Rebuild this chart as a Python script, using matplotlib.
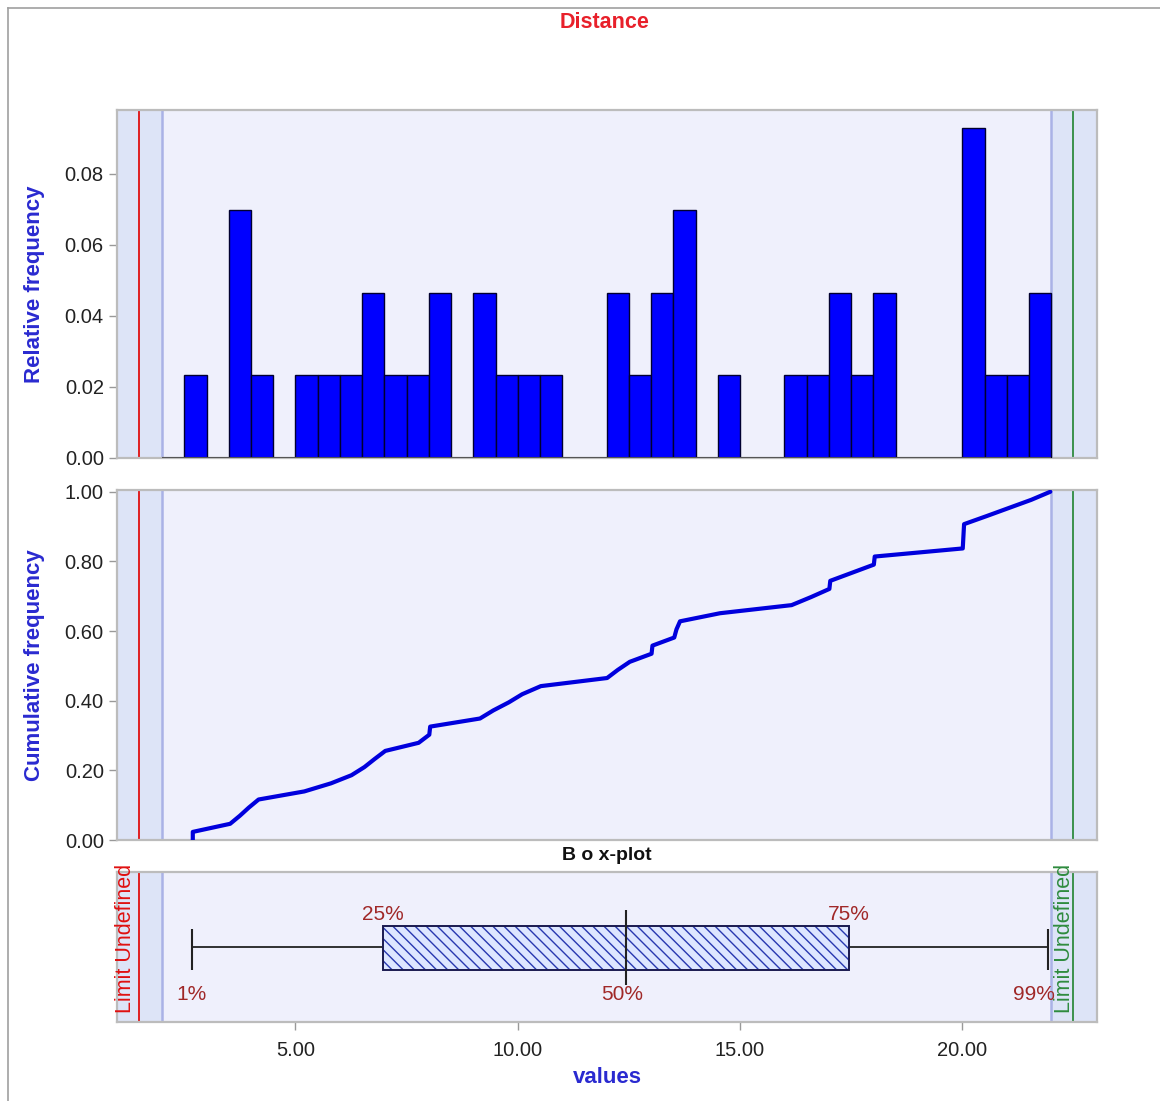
import numpy as np
import matplotlib.pyplot as plt
from matplotlib.ticker import FormatStrFormatter

values = [2.69, 3.53, 3.75, 3.95, 4.17, 5.2, 5.8, 6.26, 6.55, 6.78, 7.02, 7.77,
          8.01, 8.03, 9.15, 9.45, 9.8, 10.1, 10.52, 12.01, 12.25, 12.52, 13.01,
          13.03, 13.52, 13.57, 13.65, 14.55, 16.16, 16.6, 17.01, 17.03, 17.52,
          18.01, 18.03, 20.01, 20.02, 20.03, 20.04, 20.55, 21.05, 21.55, 21.98]
bin_edges = np.linspace(2.5, 22.0, 40)

# box-plot percentiles as drawn
pct_labels = ["1%", "25%", "50%", "75%", "99%"]
pct_values = [2.67, 6.96, 12.44, 17.45, 21.93]

# limits / bands
lower_limit = 1.48
upper_limit = 22.49
band_lo = 2.0
band_hi = 22.0
xmin, xmax = 0.985, 23.03

W, H = 1160, 1101
BG = "#eff0fc"
BAND = "#dde4f7"
BAND_EDGE = "#aab2e6"
SPINE = "#bcbcbc"
TXT = "#222222"
BLUE_LBL = "#2a2ad0"
FONT = ["Liberation Sans", "DejaVu Sans"]
plt.rcParams["font.family"] = FONT
plt.rcParams["hatch.linewidth"] = 1.0


def rect(l, t, r, b):
    return [l / W, 1 - b / H, (r - l) / W, (b - t) / H]


def style(ax):
    ax.set_facecolor(BG)
    ax.set_xlim(xmin, xmax)
    ax.axvspan(xmin, band_lo, color=BAND, zorder=0, lw=0)
    ax.axvspan(band_hi, xmax, color=BAND, zorder=0, lw=0)
    ax.axvline(band_lo, color=BAND_EDGE, lw=1.8, zorder=1)
    ax.axvline(band_hi, color=BAND_EDGE, lw=1.8, zorder=1)
    ax.axvline(lower_limit, color="#e01010", lw=1.3, zorder=1)
    ax.axvline(upper_limit, color="#2e8b3e", lw=1.3, zorder=1)
    for s in ax.spines.values():
        s.set_color(SPINE)
        s.set_linewidth(1.6)
    ax.tick_params(axis="both", colors="#999999", labelcolor=TXT, labelsize=14.5,
                   length=6, width=1)


fig = plt.figure(figsize=(W / 100, H / 100), dpi=100)

# frame round the whole picture
fig.add_artist(plt.Line2D([8 / W, 8 / W], [0, 1 - 8 / H], color="#a0a0a0", lw=1.2))
fig.add_artist(plt.Line2D([8 / W, 1], [1 - 8 / H, 1 - 8 / H], color="#a0a0a0", lw=1.2))

fig.text(605 / W, 1 - 23 / H, "Distance", color="#e8202a", fontsize=15.5,
         fontweight="bold", ha="center", va="center")

# ---- histogram
ax1 = fig.add_axes(rect(117, 110, 1097, 458))
style(ax1)
n = len(values)
ax1.hist(values, bins=bin_edges, weights=np.ones(n) / n, color="#0000ff",
         edgecolor="#000030", linewidth=1, zorder=3)
ax1.hlines(0, band_lo, band_hi, color="#555555", lw=1.5, zorder=4)
ax1.set_ylim(0, 0.098)
ax1.set_yticks([0, 0.02, 0.04, 0.06, 0.08])
ax1.yaxis.set_major_formatter(FormatStrFormatter("%.2f"))
ax1.set_xticks([])
ax1.set_ylabel("Relative frequency", color=BLUE_LBL, fontsize=16, fontweight="bold",
               labelpad=14)

# ---- cumulative
ax2 = fig.add_axes(rect(117, 490, 1097, 840))
style(ax2)
cx = [values[0]] + values
cy = [0] + list(np.arange(1, n + 1) / n)
ax2.plot(cx, cy, color="#0000dd", lw=3, solid_joinstyle="round",
         solid_capstyle="round", zorder=3)
ax2.set_ylim(0, 1.005)
ax2.set_yticks([0, 0.2, 0.4, 0.6, 0.8, 1.0])
ax2.yaxis.set_major_formatter(FormatStrFormatter("%.2f"))
ax2.set_xticks([])
ax2.set_ylabel("Cumulative frequency", color=BLUE_LBL, fontsize=16, fontweight="bold",
               labelpad=14)

fig.text(607 / W, 1 - 856 / H, "B o x-plot", color="#111111", fontsize=14,
         fontweight="bold", ha="center", va="center")

# ---- box plot
ax3 = fig.add_axes(rect(117, 872, 1097, 1022))
style(ax3)
ax3.set_ylim(0, 1)
p1, q1, med, q3, p99 = pct_values
ax3.hlines(0.5, p1, p99, color="#222222", lw=1.3, zorder=3)
ax3.add_patch(plt.Rectangle((q1, 0.347), q3 - q1, 0.293, facecolor="#dde6ff",
                            edgecolor="#2838b0", hatch="\\\\\\", lw=0, zorder=4))
ax3.add_patch(plt.Rectangle((q1, 0.347), q3 - q1, 0.293, facecolor="none",
                            edgecolor="#1a1a50", lw=1.4, zorder=4))
ax3.vlines([p1, p99], 0.347, 0.62, color="#222222", lw=1.5, zorder=5)
ax3.vlines(med, 0.247, 0.747, color="#222222", lw=1.5, zorder=5)
lab_col = "#a02828"
ax3.text(q1, 0.72, pct_labels[1], color=lab_col, fontsize=15, ha="center", va="center")
ax3.text(q3, 0.72, pct_labels[3], color=lab_col, fontsize=15, ha="center", va="center")
ax3.text(p1, 0.18, pct_labels[0], color=lab_col, fontsize=15, ha="center", va="center")
ax3.text(med - 0.1, 0.18, pct_labels[2], color=lab_col, fontsize=15, ha="center", va="center")
ax3.text(p99 - 0.32, 0.18, pct_labels[4], color=lab_col, fontsize=15, ha="center", va="center")
ax3.text(lower_limit - 0.3, 0.56, "Limit Undefined", color="#e01010", fontsize=15.5,
         rotation=90, ha="center", va="center")
ax3.text(upper_limit - 0.2, 0.56, "Limit Undefined", color="#2e8b3e", fontsize=15.5,
         rotation=90, ha="center", va="center")
ax3.set_yticks([])
ax3.set_xticks([5, 10, 15, 20])
ax3.xaxis.set_major_formatter(FormatStrFormatter("%.2f"))
ax3.tick_params(axis="x", pad=8)
ax3.set_xlabel("values", color=BLUE_LBL, fontsize=16, fontweight="bold", labelpad=5)

fig.savefig("out.png", dpi=100)
